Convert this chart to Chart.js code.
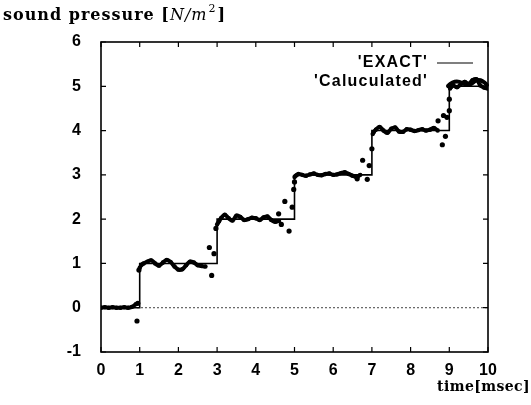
<!DOCTYPE html>
<html>
<head>
<meta charset="utf-8">
<script src="https://cdn.jsdelivr.net/npm/chart.js@4.4.1/dist/chart.umd.min.js"></script>
<style>
  html, body { margin: 0; padding: 0; background: #fff; }
  #wrap { width: 531px; height: 405px; }
</style>
</head>
<body>
<div id="wrap"><canvas id="soundChart" width="531" height="405"></canvas></div>
<script>
// exact step response
const exactX = [0, 1, 1, 3, 3, 5, 5, 7, 7, 9, 9, 10];
const exactY = [0, 0, 1, 1, 2, 2, 3, 3, 4, 4, 5, 5];

// calculated values on the plateaus (null = break between plateaus)
const calcX = [
  0.0, 0.1, 0.2, 0.3, 0.4, 0.5, 0.6, 0.7, 0.8, 0.9, 0.92,
  1.0, 1.05, 1.1, 1.2, 1.3, 1.4, 1.5, 1.6, 1.7, 1.8, 1.9, 2.0, 2.1, 2.2, 2.3, 2.4, 2.5, 2.6, 2.7, 2.72,
  3.0, 3.05, 3.1, 3.2, 3.3, 3.4, 3.5, 3.6, 3.7, 3.8, 3.9, 4.0, 4.1, 4.2, 4.3, 4.4, 4.5, 4.6, 4.62,
  5.0, 5.05, 5.1, 5.2, 5.3, 5.4, 5.5, 5.6, 5.7, 5.8, 5.9, 6.0, 6.1, 6.2, 6.3, 6.4, 6.5, 6.6, 6.7, 6.72,
  7.02, 7.05, 7.1, 7.2, 7.3, 7.4, 7.5, 7.6, 7.7, 7.8, 7.9, 8.0, 8.1, 8.2, 8.3, 8.4, 8.5, 8.6, 8.7, 8.72,
  9.02, 9.05, 9.1, 9.2, 9.3, 9.4, 9.5, 9.6, 9.7, 9.8, 9.9, 10.0
];
const calcY = [
  0.0, 0.01, 0.0, 0.01, 0.0, 0.0, 0.01, 0.0, 0.02, 0.08, null,
  0.9, 0.97, 1.0, 1.04, 1.07, 1.0, 0.95, 1.02, 1.08, 1.03, 0.93, 0.86, 0.87, 0.96, 1.04, 1.02, 0.96, 0.94, 0.93, null,
  1.88, 1.95, 2.02, 2.1, 2.02, 1.97, 2.08, 2.05, 1.98, 2.0, 2.03, 2.02, 1.98, 2.04, 2.06, 1.98, 1.94, 1.96, null,
  2.95, 2.99, 3.02, 3.0, 2.98, 3.01, 3.03, 3.0, 2.99, 3.02, 3.03, 3.0, 3.01, 3.04, 3.06, 3.02, 2.98, 2.95, 3.0, null,
  3.92, 3.97, 4.02, 4.08, 4.0, 3.95, 4.04, 4.07, 3.98, 3.97, 4.03, 4.02, 3.99, 4.01, 4.03, 4.0, 4.02, 4.06, 4.0, null,
  4.95, 4.99, 5.02, 4.98, 5.05, 5.1, 5.05, 5.14, 5.16, 5.02, 4.97, 4.95
];

// calculated values scattered round the jumps
const spikeX = [0.93, 0.95, 0.98, 2.8, 2.86, 2.92, 2.97, 4.59, 4.66, 4.75, 4.86, 4.94, 4.98, 5.0,
                6.62, 6.76, 6.88, 6.93, 7.0, 8.71, 8.82, 8.85, 8.9, 8.94, 9.0, 9.0];
const spikeY = [-0.3, 0.1, 0.85, 1.36, 0.73, 1.22, 1.79, 2.12, 1.88, 2.4, 1.73, 2.27, 2.67, 2.84,
                2.91, 3.33, 2.9, 3.21, 3.59, 4.22, 3.68, 4.34, 3.87, 4.3, 4.45, 4.71];

const zeroX = [0, 10];
const zeroY = [0, 0];

const xTicks = [0, 1, 2, 3, 4, 5, 6, 7, 8, 9, 10];
const yTicks = [-1, 0, 1, 2, 3, 4, 5, 6];

const tickFont = { family: 'Liberation Sans', size: 16, weight: 'bold' };

function toPoints(xs, ys) {
  return xs.map(function(x, i) { return { x: x, y: ys[i] }; });
}

// frame, inward ticks, titles and legend
const decorPlugin = {
  id: 'decor',
  afterDraw: function(chart) {
    const ctx = chart.ctx;
    const a = chart.chartArea;
    const xs = chart.scales.x;
    const ys = chart.scales.y;
    ctx.save();
    ctx.strokeStyle = '#000';
    ctx.lineWidth = 1.6;
    ctx.strokeRect(a.left, a.top, a.right - a.left, a.bottom - a.top);

    ctx.lineWidth = 1.2;
    ctx.beginPath();
    xTicks.forEach(function(v) {
      const px = xs.getPixelForValue(v);
      ctx.moveTo(px, a.bottom); ctx.lineTo(px, a.bottom - 5);
      ctx.moveTo(px, a.top); ctx.lineTo(px, a.top + 5);
    });
    yTicks.forEach(function(v) {
      const py = ys.getPixelForValue(v);
      ctx.moveTo(a.left, py); ctx.lineTo(a.left + 5, py);
      ctx.moveTo(a.right, py); ctx.lineTo(a.right - 5, py);
    });
    ctx.stroke();

    // y title
    ctx.fillStyle = '#000';
    ctx.textBaseline = 'alphabetic';
    ctx.textAlign = 'left';
    ctx.letterSpacing = '1px';
    let tx = 3;
    const ty = 20;
    ctx.font = 'bold 16px "DejaVu Serif"';
    ctx.fillText('sound pressure [', tx, ty);
    tx += ctx.measureText('sound pressure [').width;
    ctx.font = 'italic 16px "DejaVu Serif"';
    ctx.fillText('N/m', tx, ty);
    tx += ctx.measureText('N/m').width;
    ctx.font = '11px "DejaVu Serif"';
    ctx.fillText('2', tx + 1, ty - 8);
    tx += ctx.measureText('2').width + 2;
    ctx.font = 'bold 16px "DejaVu Serif"';
    ctx.fillText(']', tx, ty);

    // x title
    ctx.letterSpacing = '0.4px';
    ctx.font = 'bold 14px "DejaVu Serif"';
    ctx.textAlign = 'right';
    ctx.fillText('time[msec]', 530, 391);

    // legend
    ctx.font = 'bold 16px "Liberation Sans"';
    ctx.letterSpacing = '1.2px';
    ctx.textBaseline = 'middle';
    ctx.fillText("'EXACT'", 428, 63);
    ctx.fillText("'Caluculated'", 428, 82);
    ctx.lineWidth = 1.2;
    ctx.beginPath();
    ctx.moveTo(437, 63); ctx.lineTo(473, 63);
    ctx.stroke();
    ctx.lineWidth = 4;
    ctx.lineJoin = 'round';
    ctx.lineCap = 'round';
    ctx.beginPath();
    ctx.moveTo(448, 86);
    ctx.quadraticCurveTo(455, 79, 462, 83);
    ctx.quadraticCurveTo(469, 87, 475, 81);
    ctx.quadraticCurveTo(481, 78, 487, 85);
    ctx.stroke();
    ctx.restore();
  }
};

new Chart(document.getElementById('soundChart').getContext('2d'), {
  type: 'scatter',
  data: {
    datasets: [
      {
        label: 'zero',
        data: toPoints(zeroX, zeroY),
        showLine: true,
        borderColor: '#444',
        borderWidth: 1,
        borderDash: [2, 2],
        pointRadius: 0,
        order: 4
      },
      {
        label: "'EXACT'",
        data: toPoints(exactX, exactY),
        showLine: true,
        borderColor: '#000',
        borderWidth: 1.6,
        pointRadius: 0,
        order: 3
      },
      {
        label: "'Caluculated'",
        data: toPoints(calcX, calcY),
        showLine: true,
        spanGaps: false,
        tension: 0.4,
        borderColor: '#000',
        borderWidth: 4,
        backgroundColor: '#000',
        pointRadius: 2.2,
        pointBorderWidth: 0,
        order: 2
      },
      {
        label: 'spikes',
        data: toPoints(spikeX, spikeY),
        showLine: false,
        backgroundColor: '#000',
        borderColor: '#000',
        pointRadius: 2.6,
        pointBorderWidth: 0,
        order: 1
      }
    ]
  },
  options: {
    responsive: false,
    animation: false,
    layout: { padding: { left: 0, top: 42, right: 43, bottom: 0 } },
    plugins: {
      legend: { display: false },
      tooltip: { enabled: false }
    },
    scales: {
      x: {
        type: 'linear',
        min: 0,
        max: 10,
        grid: { display: false, drawTicks: false },
        border: { display: false },
        ticks: { stepSize: 1, color: '#000', font: tickFont, padding: 9, maxRotation: 0 },
        afterFit: function(s) { s.height = 53; }
      },
      y: {
        type: 'linear',
        min: -1,
        max: 6,
        grid: { display: false, drawTicks: false },
        border: { display: false },
        ticks: { stepSize: 1, color: '#000', font: tickFont, padding: 20 },
        afterFit: function(s) { s.width = 101; }
      }
    }
  },
  plugins: [decorPlugin]
});
</script>
</body>
</html>
